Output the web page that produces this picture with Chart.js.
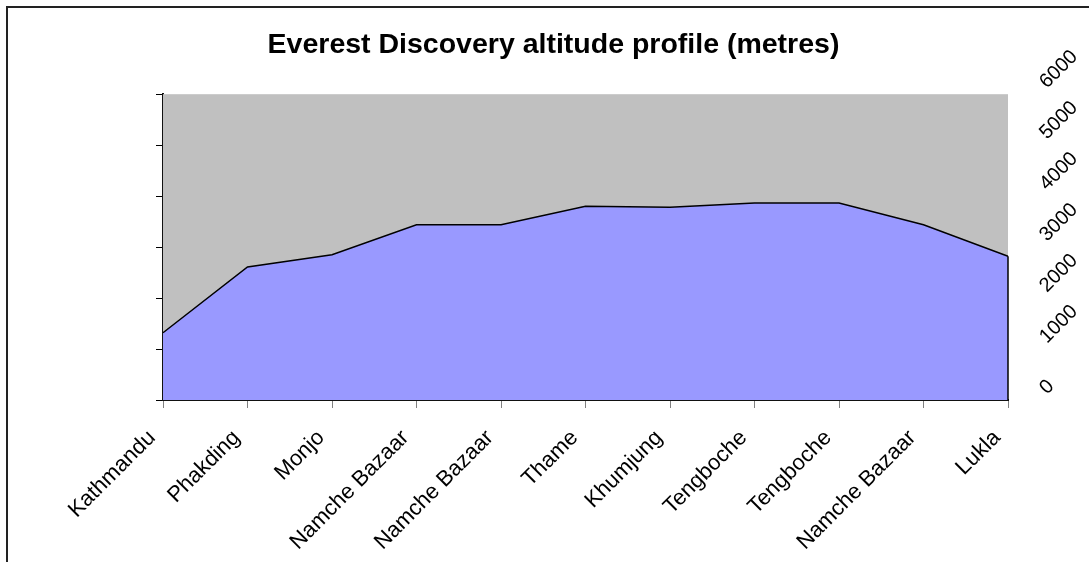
<!DOCTYPE html>
<html>
<head>
<meta charset="utf-8">
<script src="https://cdn.jsdelivr.net/npm/chart.js@4/dist/chart.umd.min.js"></script>
<style>
  html, body { margin: 0; padding: 0; background: #fff; overflow: hidden; }
  #wrap { position: relative; width: 1089px; height: 562px; }
  #frame { position: absolute; left: 6px; top: 6px; width: 1200px; height: 700px; border-top: 2px solid #222; border-left: 2px solid #222; pointer-events: none; }
</style>
</head>
<body>
<div id="wrap">
  <canvas id="altChart" width="1089" height="562"></canvas>
  <div id="frame"></div>
</div>
<script>
  // Everest Discovery - altitude per stop
  const stops = ['Kathmandu','Phakding','Monjo','Namche Bazaar','Namche Bazaar','Thame','Khumjung','Tengboche','Tengboche','Namche Bazaar','Lukla'];
  const altitudes = [1320,2610,2850,3440,3440,3800,3780,3867,3867,3440,2820];
  const altTicks = [0,1000,2000,3000,4000,5000,6000];

  const fontFamily = '"Liberation Sans", Arial, sans-serif';

  // gray plot area + closing edge of the area on the right
  const plotBg = {
    id: 'plotBg',
    beforeDatasetsDraw(chart) {
      const { ctx, chartArea: a } = chart;
      ctx.save();
      ctx.fillStyle = '#C0C0C0';
      ctx.fillRect(a.left, a.top, a.right - a.left, a.bottom - a.top);
      ctx.restore();
    },
    afterDatasetsDraw(chart) {
      const { ctx, chartArea: a } = chart;
      const pts = chart.getDatasetMeta(0).data;
      const last = pts[pts.length - 1];
      ctx.save();
      ctx.strokeStyle = '#000';
      ctx.lineWidth = 1.5;
      ctx.beginPath();
      ctx.moveTo(last.x, last.y);
      ctx.lineTo(last.x, a.bottom);
      ctx.stroke();
      ctx.restore();
    }
  };

  const altCtx = document.getElementById('altChart').getContext('2d');
  new Chart(altCtx, {
    type: 'line',
    data: {
      labels: stops,
      datasets: [{
        label: 'Altitude',
        data: altitudes,
        borderColor: '#000',
        borderWidth: 1.5,
        backgroundColor: '#9999FF',
        fill: 'origin',
        pointRadius: 0,
        tension: 0
      }]
    },
    options: {
      responsive: false,
      animation: false,
      layout: { padding: { left: 18 } },
      plugins: {
        legend: { display: false },
        tooltip: { enabled: false },
        title: {
          display: true,
          text: 'Everest Discovery altitude profile (metres)',
          color: '#000',
          font: { family: fontFamily, size: 28.5, weight: 'bold' },
          padding: { top: 28, bottom: 32 }
        }
      },
      scales: {
        x: {
          offset: false,
          grid: { drawOnChartArea: false, color: '#808080', tickLength: 8 },
          border: { color: '#111', width: 2 },
          ticks: {
            color: '#000', autoSkip: false, minRotation: 45, maxRotation: 45, padding: 17, labelOffset: -11,
            font: { family: fontFamily, size: 22 }
          },
          afterFit: (s) => { s.height = 162; }
        },
        y: {
          position: 'left',
          min: 0, max: 6000,
          afterBuildTicks: (s) => { s.ticks = altTicks.map(v => ({ value: v })); },
          grid: { drawOnChartArea: false, color: '#000', tickLength: 7 },
          border: { color: '#111', width: 2 },
          ticks: { display: false },
          afterFit: (s) => { s.width = 145; }
        },
        y1: {
          position: 'right',
          min: 0, max: 6000,
          afterBuildTicks: (s) => { s.ticks = altTicks.map(v => ({ value: v })); },
          grid: { display: false, drawTicks: false },
          border: { display: false },
          ticks: {
            color: '#000', minRotation: 45, maxRotation: 45, padding: 35, labelOffset: -9,
            font: { family: fontFamily, size: 20 },
            callback: (v) => String(v)
          },
          afterFit: (s) => { s.width = 81; }
        }
      }
    },
    plugins: [plotBg]
  });
</script>
</body>
</html>
